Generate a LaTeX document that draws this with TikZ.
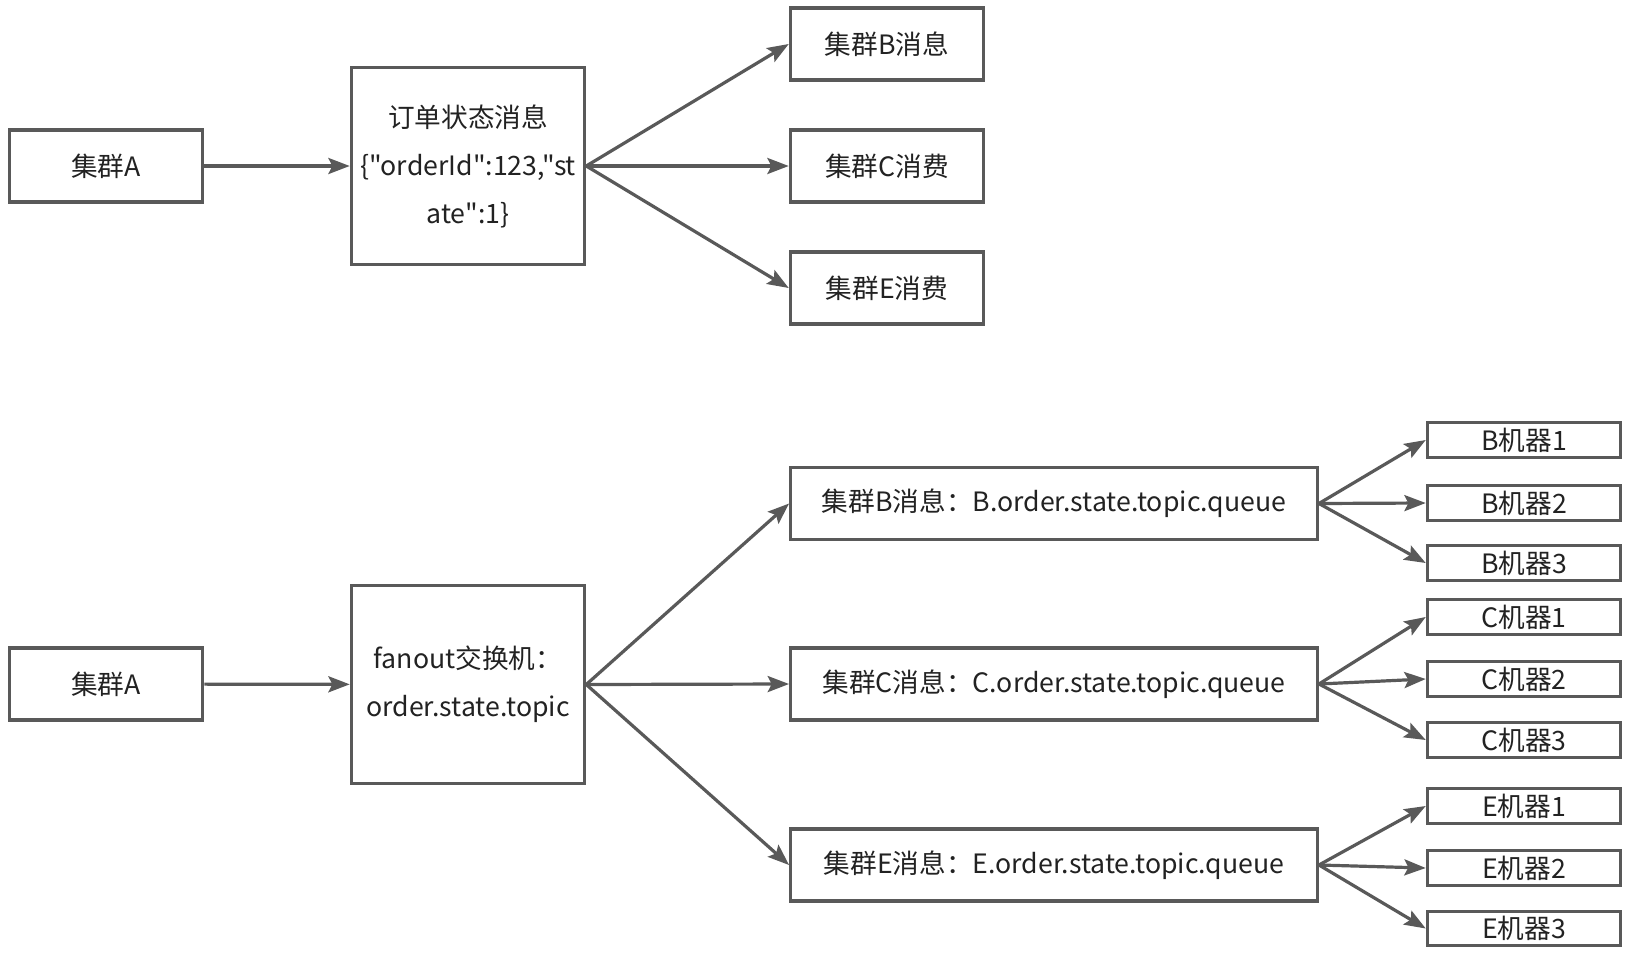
\documentclass[tikz,border=0pt]{standalone}
\usepackage{fontspec}
\newfontfamily\cjkfont{Noto Sans CJK SC}
\usetikzlibrary{arrows.meta, positioning}
\definecolor{cline}{HTML}{595959}
\definecolor{ctext}{HTML}{222222}
\tikzset{
  every picture/.style={line width=2.4pt},
  box/.style={draw=cline, text=ctext, align=center, inner sep=0pt, minimum width=145pt, minimum height=54pt, font=\cjkfont\fontsize{20}{36}\selectfont},
  bigbox/.style={box, minimum width=175pt, minimum height=148pt},
  queuebox/.style={box, minimum width=395pt},
  machine/.style={box, minimum height=26pt},
  arrow/.style={-{Stealth[length=16pt, width=12pt, inset=3pt]}, draw=cline, line width=2.4pt},
}
\begin{document}
\begin{tikzpicture}[x=0.75pt, y=-0.75pt]
  \useasboundingbox (0,0) rectangle (1635,957);
  % top row: one message, three consumers
  \node[box] (a1) at (106,166) {集群A};
  \node[bigbox] (msg) at (468,166) {订单状态消息\\\{"orderId":123,"st\\ate":1\}};
  \node[box] (b1) at (887,44) {集群B消息};
  \node[box] (c1) at (887,166) {集群C消费};
  \node[box] (e1) at (887,288) {集群E消费};
  \draw[arrow] (a1) -- (msg);
  \draw[arrow] (msg.east) -- (b1.west); \draw[arrow] (msg.east) -- (c1.west); \draw[arrow] (msg.east) -- (e1.west);
  % bottom row: fanout exchange, one queue per cluster
  \node[box] (a2) at (106,684) {集群A};
  \node[bigbox] (fan) at (468,684.5) {fanout交换机：\\order.state.topic};
  \node[queuebox] (bq) at (1054,503.5) {集群B消息：B.order.state.topic.queue};
  \node[queuebox] (cq) at (1054,684) {集群C消息：C.order.state.topic.queue};
  \node[queuebox] (eq) at (1054,865) {集群E消息：E.order.state.topic.queue};
  \draw[arrow] (a2) -- (fan);
  \draw[arrow] (fan.east) -- (bq.west); \draw[arrow] (fan.east) -- (cq.west); \draw[arrow] (fan.east) -- (eq.west);
  % machines behind each queue
  \node[machine] (bm1) at (1524,440) {B机器1};
  \node[machine] (bm2) at (1524,503) {B机器2};
  \node[machine] (bm3) at (1524,563) {B机器3};
  \node[machine] (cm1) at (1524,617) {C机器1};
  \node[machine] (cm2) at (1524,679) {C机器2};
  \node[machine] (cm3) at (1524,740) {C机器3};
  \node[machine] (em1) at (1524,806) {E机器1};
  \node[machine] (em2) at (1524,868) {E机器2};
  \node[machine] (em3) at (1524,928.5) {E机器3};
  \draw[arrow] (bq.east) -- (bm1.west); \draw[arrow] (bq.east) -- (bm2.west); \draw[arrow] (bq.east) -- (bm3.west);
  \draw[arrow] (cq.east) -- (cm1.west); \draw[arrow] (cq.east) -- (cm2.west); \draw[arrow] (cq.east) -- (cm3.west);
  \draw[arrow] (eq.east) -- (em1.west); \draw[arrow] (eq.east) -- (em2.west); \draw[arrow] (eq.east) -- (em3.west);
\end{tikzpicture}
\end{document}
